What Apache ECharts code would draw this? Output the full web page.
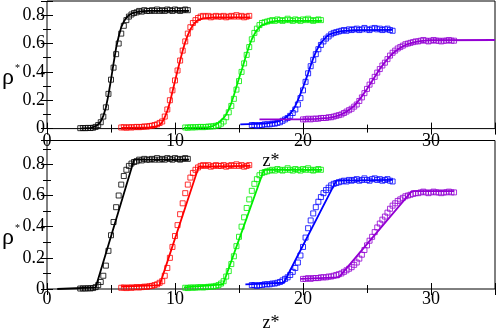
<!DOCTYPE html>
<html>
<head>
<meta charset="utf-8">
<script src="https://cdn.jsdelivr.net/npm/echarts@6/dist/echarts.min.js"></script>
<style>
html, body { margin: 0; padding: 0; background: #fff; }
#main { width: 498px; height: 333px; }
</style>
</head>
<body>
<div id="main"></div>
<script>
// simulation profiles (squares), same points in both panels
var zBlack = [2.6,2.8,3.0,3.2,3.4,3.6,3.8,4.0,4.2,4.4,4.6,4.8,5.0,5.2,5.4,5.6,5.8,6.0,6.2,6.4,6.6,6.8,7.0,7.2,7.4,7.6,7.8,8.0,8.2,8.4,8.6,8.8,9.0,9.2,9.4,9.6,9.8,10.0,10.2,10.4,10.6,10.8,11.0];
var rhoBlack = [0.003,0.004,0.003,0.005,0.004,0.006,0.012,0.025,0.045,0.085,0.15,0.245,0.345,0.43,0.525,0.60,0.67,0.725,0.765,0.79,0.805,0.815,0.82,0.83,0.825,0.835,0.83,0.83,0.835,0.83,0.84,0.83,0.835,0.83,0.84,0.835,0.83,0.84,0.835,0.83,0.835,0.84,0.835];

var zRed = [5.8,6.0,6.2,6.4,6.6,6.8,7.0,7.2,7.4,7.6,7.8,8.0,8.2,8.4,8.6,8.8,9.0,9.2,9.4,9.6,9.8,10.0,10.2,10.4,10.6,10.8,11.0,11.2,11.4,11.6,11.8,12.0,12.2,12.4,12.6,12.8,13.0,13.2,13.4,13.6,13.8,14.0,14.2,14.4,14.6,14.8,15.0,15.2,15.4,15.6,15.8];
var rhoRed = [0.008,0.01,0.006,0.01,0.008,0.01,0.012,0.01,0.012,0.015,0.014,0.018,0.02,0.025,0.03,0.04,0.05,0.085,0.135,0.20,0.27,0.34,0.41,0.48,0.55,0.615,0.67,0.715,0.745,0.765,0.78,0.79,0.795,0.79,0.795,0.785,0.79,0.795,0.79,0.79,0.795,0.785,0.79,0.795,0.79,0.80,0.79,0.795,0.785,0.79,0.795];

var zGreen = [10.8,11.0,11.2,11.4,11.6,11.8,12.0,12.2,12.4,12.6,12.8,13.0,13.2,13.4,13.6,13.8,14.0,14.2,14.4,14.6,14.8,15.0,15.2,15.4,15.6,15.8,16.0,16.2,16.4,16.6,16.8,17.0,17.2,17.4,17.6,17.8,18.0,18.2,18.4,18.6,18.8,19.0,19.2,19.4,19.6,19.8,20.0,20.2,20.4,20.6,20.8,21.0,21.2,21.4];
var rhoGreen = [0.008,0.006,0.01,0.008,0.01,0.01,0.012,0.01,0.012,0.014,0.015,0.016,0.02,0.025,0.035,0.05,0.08,0.115,0.16,0.21,0.275,0.335,0.40,0.46,0.52,0.575,0.63,0.675,0.705,0.73,0.745,0.75,0.755,0.76,0.765,0.76,0.77,0.765,0.76,0.765,0.775,0.765,0.76,0.77,0.765,0.76,0.77,0.765,0.775,0.765,0.76,0.765,0.77,0.765];

var zBlue = [16.0,16.2,16.4,16.6,16.8,17.0,17.2,17.4,17.6,17.8,18.0,18.2,18.4,18.6,18.8,19.0,19.2,19.4,19.6,19.8,20.0,20.2,20.4,20.6,20.8,21.0,21.2,21.4,21.6,21.8,22.0,22.2,22.4,22.6,22.8,23.0,23.2,23.4,23.6,23.8,24.0,24.2,24.4,24.6,24.8,25.0,25.2,25.4,25.6,25.8,26.0,26.2,26.4,26.6,26.8,27.0];
var rhoBlue = [0.025,0.025,0.02,0.025,0.025,0.03,0.03,0.03,0.035,0.035,0.04,0.045,0.055,0.065,0.075,0.09,0.11,0.135,0.17,0.215,0.27,0.33,0.39,0.44,0.485,0.525,0.56,0.59,0.615,0.635,0.65,0.665,0.675,0.68,0.685,0.69,0.695,0.69,0.70,0.695,0.70,0.705,0.695,0.70,0.71,0.70,0.695,0.705,0.71,0.70,0.705,0.695,0.70,0.705,0.695,0.69];

var zPurple = [20.0,20.2,20.4,20.6,20.8,21.0,21.2,21.4,21.6,21.8,22.0,22.2,22.4,22.6,22.8,23.0,23.2,23.4,23.6,23.8,24.0,24.2,24.4,24.6,24.8,25.0,25.2,25.4,25.6,25.8,26.0,26.2,26.4,26.6,26.8,27.0,27.2,27.4,27.6,27.8,28.0,28.2,28.4,28.6,28.8,29.0,29.2,29.4,29.6,29.8,30.0,30.2,30.4,30.6,30.8,31.0,31.2,31.4,31.6,31.8];
var rhoPurple = [0.065,0.065,0.07,0.065,0.07,0.07,0.07,0.075,0.075,0.075,0.08,0.08,0.085,0.09,0.095,0.10,0.11,0.12,0.13,0.14,0.155,0.17,0.195,0.22,0.25,0.28,0.31,0.335,0.365,0.395,0.42,0.445,0.465,0.49,0.515,0.535,0.55,0.565,0.575,0.585,0.595,0.60,0.605,0.61,0.615,0.615,0.62,0.625,0.62,0.615,0.62,0.625,0.62,0.62,0.615,0.62,0.62,0.625,0.62,0.62];

// upper panel: smooth fits
var fitBlackZ = [2.6,3.4,3.8,4.0,4.2,4.4,4.6,4.8,5.0,5.2,5.4,5.6,5.8,6.0,6.2,6.4,6.7,7.0,7.5,8.0,9.0,10.0,11.1];
var fitBlackRho = [0.0,0.005,0.016,0.029,0.051,0.089,0.149,0.238,0.345,0.46,0.57,0.65,0.715,0.755,0.782,0.80,0.815,0.822,0.828,0.83,0.83,0.83,0.83];
var fitRedZ = [5.8,8.0,8.4,8.8,9.0,9.2,9.4,9.6,9.8,10.0,10.2,10.4,10.6,10.8,11.0,11.2,11.4,11.6,11.8,12.2,13.0,15.9];
var fitRedRho = [0.005,0.008,0.013,0.025,0.045,0.08,0.125,0.185,0.26,0.335,0.41,0.48,0.55,0.61,0.66,0.70,0.73,0.75,0.765,0.778,0.785,0.785];
var fitGreenZ = [10.7,12.6,13.0,13.4,13.8,14.0,14.2,14.4,14.6,14.8,15.0,15.2,15.4,15.6,15.8,16.0,16.2,16.4,16.6,16.8,17.2,17.6,18.0,21.5];
var fitGreenRho = [0.005,0.01,0.02,0.04,0.075,0.1,0.135,0.18,0.235,0.295,0.355,0.41,0.47,0.53,0.585,0.63,0.665,0.695,0.715,0.73,0.745,0.755,0.76,0.76];
var fitBlueZ = [15.1,17.0,17.8,18.2,18.6,19.0,19.2,19.4,19.6,19.8,20.0,20.2,20.4,20.6,20.8,21.0,21.2,21.4,21.6,21.8,22.0,22.4,23.0,24.0,27.0];
var fitBlueRho = [0.03,0.035,0.045,0.055,0.075,0.105,0.13,0.16,0.2,0.245,0.29,0.34,0.39,0.445,0.495,0.54,0.575,0.605,0.625,0.645,0.66,0.675,0.688,0.695,0.697];
var fitPurpleZ = [16.6,20.0,21.0,22.0,22.5,23.0,23.5,24.0,24.5,25.0,25.5,26.0,26.5,27.0,27.5,28.0,28.5,29.0,29.5,30.0,35.0];
var fitPurpleRho = [0.065,0.066,0.068,0.075,0.085,0.1,0.125,0.16,0.215,0.28,0.35,0.42,0.48,0.53,0.565,0.59,0.605,0.615,0.62,0.623,0.625];

// lower panel: piecewise linear fits
var linBlackZ = [0.8,3.8,6.8,11.1],    linBlackRho = [0,0.01,0.83,0.83];
var linRedZ = [5.8,8.8,11.85,15.9],    linRedRho = [0.015,0.025,0.785,0.79];
var linGreenZ = [10.7,13.75,16.95,21.5], linGreenRho = [0.01,0.03,0.765,0.765];
var linBlueZ = [15.5,18.5,22.6,27.0],  linBlueRho = [0.03,0.04,0.695,0.70];
var linPurpleZ = [19.8,22.8,28.5,31.8], linPurpleRho = [0.065,0.075,0.628,0.628];

var xTicks = [0, 10, 20, 30];
var yTicks = [0, 0.2, 0.4, 0.6, 0.8];

var colors = ['#000000', '#ff0000', '#00ee00', '#0000ff', '#9400d3'];
var font = 'Liberation Serif';

function pairs(xs, ys) {
    var out = [];
    for (var i = 0; i < xs.length; i++) out.push([xs[i], ys[i]]);
    return out;
}

var chart = echarts.init(document.getElementById('main'), null, { renderer: 'canvas' });

var grids = [
    { left: 47, top: 1, width: 450, height: 127.6 },
    { left: 47, top: 140.5, width: 450, height: 158.8 }
];
var yMax = [0.9, 0.953];

var xAxes = [], yAxes = [];
grids.forEach(function (g, gi) {
    ['bottom', 'top'].forEach(function (pos) {
        // major
        xAxes.push({
            gridIndex: gi, type: 'value', position: pos, min: 0, max: 35, interval: 10,
            axisLine: { show: false }, splitLine: { show: false },
            axisTick: { inside: true, length: 6, lineStyle: { color: '#000', width: 1 } },
            axisLabel: {
                show: pos === 'bottom', color: '#000', fontFamily: font, fontSize: 18, margin: gi === 0 ? 4 : 1,
                formatter: function (v) { return xTicks.indexOf(v) >= 0 ? String(v) : ''; }
            },
            name: pos === 'bottom' ? 'z*' : '', nameLocation: 'middle', nameGap: gi === 0 ? 24 : 25,
            nameTextStyle: { color: '#000', fontFamily: font, fontSize: 18 }
        });
        // minor
        xAxes.push({
            gridIndex: gi, type: 'value', position: pos, min: 0, max: 35, interval: 5,
            axisLine: { show: false }, splitLine: { show: false },
            axisTick: { inside: true, length: 4, lineStyle: { color: '#000', width: 1 } },
            axisLabel: { show: false }
        });
    });
    ['left', 'right'].forEach(function (pos) {
        yAxes.push({
            gridIndex: gi, type: 'value', position: pos, min: 0, max: yMax[gi], interval: 0.2,
            axisLine: { show: false }, splitLine: { show: false },
            axisTick: { inside: true, length: 6, lineStyle: { color: '#000', width: 1 } },
            axisLabel: {
                show: pos === 'left', color: '#000', fontFamily: font, fontSize: 18, margin: 2,
                formatter: function (v) {
                    for (var i = 0; i < yTicks.length; i++) {
                        if (Math.abs(yTicks[i] - v) < 1e-6) return v === 0 ? '0' : yTicks[i].toFixed(1);
                    }
                    return '';
                }
            }
        });
        yAxes.push({
            gridIndex: gi, type: 'value', position: pos, min: 0, max: yMax[gi], interval: 0.1,
            axisLine: { show: false }, splitLine: { show: false },
            axisTick: { inside: true, length: 4, lineStyle: { color: '#000', width: 1 } },
            axisLabel: { show: false }
        });
    });
});

var markers = [
    pairs(zBlack, rhoBlack), pairs(zRed, rhoRed), pairs(zGreen, rhoGreen),
    pairs(zBlue, rhoBlue), pairs(zPurple, rhoPurple)
];
var fits = [
    [pairs(fitBlackZ, fitBlackRho), pairs(fitRedZ, fitRedRho), pairs(fitGreenZ, fitGreenRho),
     pairs(fitBlueZ, fitBlueRho), pairs(fitPurpleZ, fitPurpleRho)],
    [pairs(linBlackZ, linBlackRho), pairs(linRedZ, linRedRho), pairs(linGreenZ, linGreenRho),
     pairs(linBlueZ, linBlueRho), pairs(linPurpleZ, linPurpleRho)]
];

var series = [];
[0, 1].forEach(function (gi) {
    var xi = gi * 4, yi = gi * 4;
    markers.forEach(function (d, k) {
        series.push({
            type: 'scatter', xAxisIndex: xi, yAxisIndex: yi, data: d,
            symbol: 'rect', symbolSize: 5, z: 2,
            itemStyle: { color: 'rgba(0,0,0,0)', borderColor: colors[k], borderWidth: 1 }
        });
    });
    fits[gi].forEach(function (d, k) {
        series.push({
            type: 'line', xAxisIndex: xi, yAxisIndex: yi, data: d,
            showSymbol: false, symbol: 'none', z: 3,
            lineStyle: { color: colors[k], width: 1.8 }
        });
    });
});

chart.setOption({
    animation: false,
    backgroundColor: '#fff',
    grid: grids.map(function (g) {
        return Object.assign({ show: true, borderColor: '#000', borderWidth: 1, backgroundColor: 'transparent' }, g);
    }),
    xAxis: xAxes,
    yAxis: yAxes,
    graphic: [
        { type: 'text', left: 2, top: 66, style: { text: 'ρ', font: '24px "Liberation Serif"', fill: '#000' } },
        { type: 'text', left: 15, top: 63, style: { text: '*', font: '10px "Liberation Serif"', fill: '#000' } },
        { type: 'text', left: 2, top: 226, style: { text: 'ρ', font: '24px "Liberation Serif"', fill: '#000' } },
        { type: 'text', left: 15, top: 223, style: { text: '*', font: '10px "Liberation Serif"', fill: '#000' } }
    ],
    series: series
});
</script>
</body>
</html>
